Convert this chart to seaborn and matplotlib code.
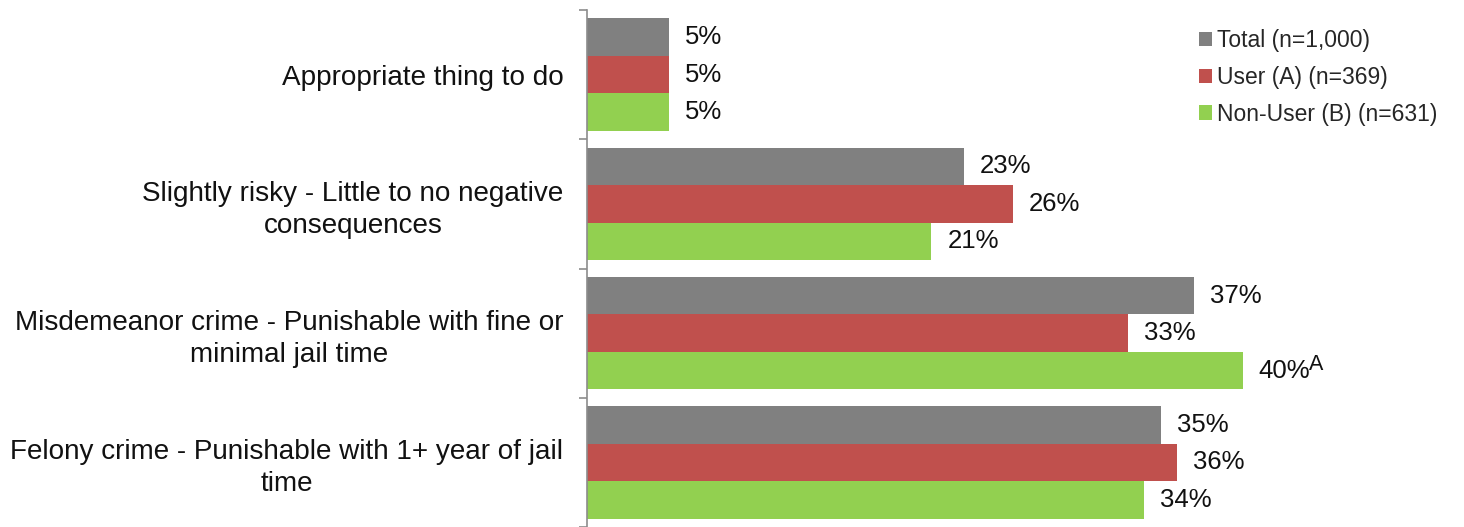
import matplotlib
matplotlib.use("Agg")
import matplotlib.pyplot as plt
import pandas as pd
import seaborn as sns
from matplotlib.ticker import FixedLocator

categories = [
    "Appropriate thing to do",
    "Slightly risky - Little to no negative\nconsequences",
    "Misdemeanor crime - Punishable with fine or\nminimal jail time",
    "Felony crime - Punishable with 1+ year of jail\ntime",
]
groups = ["Total (n=1,000)", "User (A) (n=369)", "Non-User (B) (n=631)"]
total = [5, 23, 37, 35]
user = [5, 26, 33, 36]
non_user = [5, 21, 40, 34]
colors = ["#808080", "#C0504D", "#92D050"]

rows = []
for g, vals in zip(groups, [total, user, non_user]):
    for c, v in zip(categories, vals):
        rows.append({"category": c, "group": g, "value": v})
df = pd.DataFrame(rows)

sns.set_style("white")
plt.rcParams["font.family"] = ["Liberation Sans", "DejaVu Sans"]

fig = plt.figure(figsize=(14.64, 5.27), dpi=100)
ax = fig.add_axes([0.401, 0.0, 0.599, 0.981])

sns.barplot(data=df, y="category", x="value", hue="group", palette=colors,
            orient="h", width=0.87, gap=0, ax=ax, legend=True,
            saturation=1, edgecolor="none")

for cont in ax.containers:
    ax.bar_label(cont, labels=[f"{v:.0f}%" for v in cont.datavalues],
                 padding=11.5, fontsize=18.5, color="#111111")

# significance marker next to the Non-User misdemeanor bar
ax.annotate("A", xy=(non_user[2], 2 + 0.29), xytext=(48, 4.5),
            textcoords="offset points", fontsize=15.5, va="center", ha="left",
            color="#111111")

ax.set_xlim(0, 53.5)
ax.set_ylim(3.5, -0.5)
ax.set_xlabel("")
ax.set_ylabel("")
ax.set_xticks([])

for s in ["top", "right", "bottom"]:
    ax.spines[s].set_visible(False)
ax.spines["left"].set_color("#8c8c8c")
ax.spines["left"].set_linewidth(1.2)

ax.tick_params(axis="y", which="major", length=0, pad=17, labelsize=20.1,
               labelcolor="#111111")
ax.yaxis.set_minor_locator(FixedLocator([-0.5, 0.5, 1.5, 2.5, 3.5]))
ax.tick_params(axis="y", which="minor", length=6, width=1.2, color="#8c8c8c",
               left=True)
for lbl in ax.get_yticklabels():
    lbl.set_multialignment("center")
    lbl.set_linespacing(1.3)

leg = ax.legend(loc="upper left", bbox_to_anchor=(0.8125, 0.962),
                bbox_transform=fig.transFigure, frameon=False, fontsize=16.5,
                handlelength=0.6, handleheight=0.6, handletextpad=0.22,
                labelspacing=0.6, borderaxespad=0)

fig.savefig("out.png", dpi=100)
